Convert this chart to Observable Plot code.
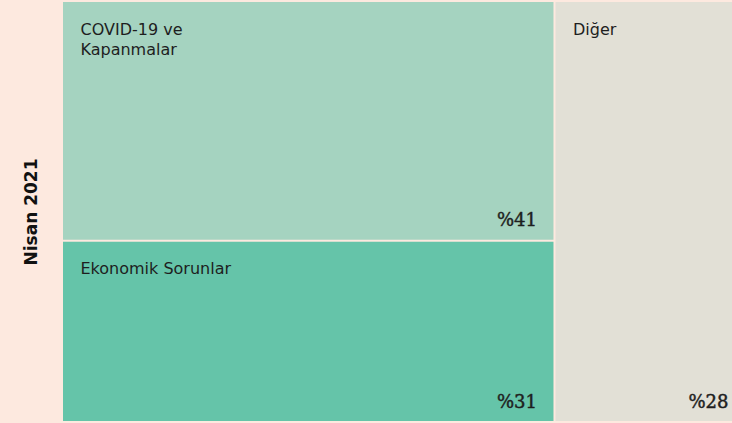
<!DOCTYPE html>
<html>
<head>
<meta charset="utf-8">
<script src="https://cdn.jsdelivr.net/npm/d3@7"></script>
<script src="https://cdn.jsdelivr.net/npm/@observablehq/plot@0.6"></script>
<style>
  html, body { margin: 0; padding: 0; background: #fde9df; overflow: hidden; }
  #chart svg { display: block; }
</style>
</head>
<body>
<div id="chart"></div>
<script>
// ---- data ----
const period = "Nisan 2021";
const categories = ["COVID-19 ve\nKapanmalar", "Ekonomik Sorunlar", "Diğer"];
const shares = [41, 31, 28];
const pctLabels = ["%41", "%31", "%28"];
const groups = ["left", "left", "right"]; // treemap column of each category
const palette = ["#a5d3c0", "#65c4a9", "#e2e0d6"];

// ---- layout (slice-and-dice from shares) ----
const total = d3.sum(shares);
const colTotals = d3.rollup(shares.map((s, i) => ({s, g: groups[i]})), v => d3.sum(v, d => d.s), d => d.g);
const colOrder = Array.from(new Set(groups));
let xAcc = 0;
const colX = new Map();
for (const g of colOrder) {
  const w = colTotals.get(g) / total * 100;
  colX.set(g, [xAcc, xAcc + w]);
  xAcc += w;
}
const yAcc = new Map(colOrder.map(g => [g, 0]));
const cells = categories.map((c, i) => {
  const g = groups[i];
  const h = shares[i] / colTotals.get(g) * 100;
  const y1 = yAcc.get(g);
  yAcc.set(g, y1 + h);
  const [x1, x2] = colX.get(g);
  return {category: c, pct: pctLabels[i], x1, x2, y1, y2: y1 + h};
});

const chart = Plot.plot({
  width: 732,
  height: 423,
  marginLeft: 62,
  marginRight: 0,
  marginTop: 1,
  marginBottom: 1,
  style: {background: "#fde9df", overflow: "hidden"},
  x: {domain: [0, 100], range: [62, 746], axis: null},
  y: {domain: [0, 100], range: [1, 422], axis: null},
  color: {domain: categories, range: palette},
  marks: [
    Plot.rect(cells, {x1: "x1", x2: "x2", y1: "y1", y2: "y2", fill: "category", inset: 1}),
    Plot.text(cells, {
      x: "x1", y: "y1", text: "category",
      textAnchor: "start", lineAnchor: "top", dx: 18, dy: 19,
      fontFamily: "DejaVu Sans", fontSize: 16, lineHeight: 1.25, fill: "#1e1e1e"
    }),
    Plot.text(cells, {
      x: "x2", y: "y2", text: "pct",
      textAnchor: "end", lineAnchor: "bottom", dx: -18, dy: -15,
      fontFamily: "DejaVu Serif", fontSize: 18, fontWeight: "normal",
      fill: "#1e1e1e", stroke: "#1e1e1e", strokeWidth: 0.45
    }),
    Plot.text([period], {
      frameAnchor: "left", textAnchor: "middle", dx: -31, rotate: -90,
      fontFamily: "DejaVu Sans", fontSize: 17, fontWeight: "bold", fill: "#111"
    })
  ]
});
document.getElementById("chart").append(chart);
</script>
</body>
</html>
